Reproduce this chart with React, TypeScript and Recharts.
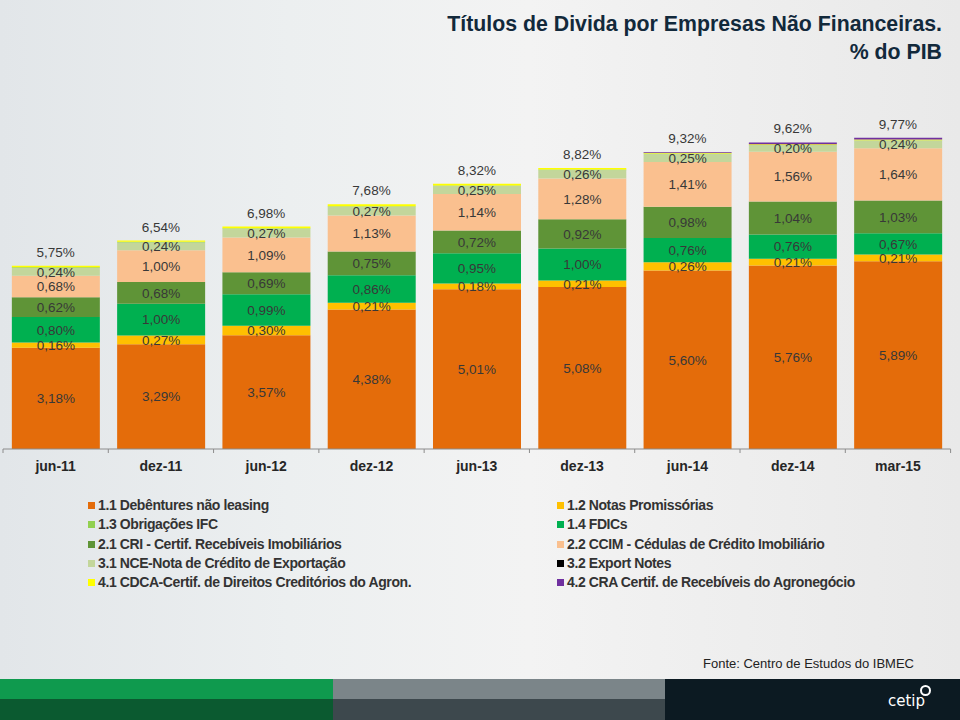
import React from 'react';
import { Bar, ComposedChart, LabelList, Line, XAxis, YAxis } from 'recharts';

const periods = ['jun-11', 'dez-11', 'jun-12', 'dez-12', 'jun-13', 'dez-13', 'jun-14', 'dez-14', 'mar-15'];

// valores em % do PIB
const debentures = [3.18, 3.29, 3.57, 4.38, 5.01, 5.08, 5.60, 5.76, 5.89];
const notasPromissorias = [0.16, 0.27, 0.30, 0.21, 0.18, 0.21, 0.26, 0.21, 0.21];
const fdics = [0.80, 1.00, 0.99, 0.86, 0.95, 1.00, 0.76, 0.76, 0.67];
const cri = [0.62, 0.68, 0.69, 0.75, 0.72, 0.92, 0.98, 1.04, 1.03];
const ccim = [0.68, 1.00, 1.09, 1.13, 1.14, 1.28, 1.41, 1.56, 1.64];
const nce = [0.24, 0.24, 0.27, 0.27, 0.25, 0.26, 0.25, 0.20, 0.24];
const ifc = [0.02, 0.02, 0.02, 0.02, 0.02, 0.02, 0.01, 0.01, 0.01];
const exportNotes = [0, 0, 0, 0, 0, 0, 0, 0, 0];
const cdca = [0.05, 0.04, 0.05, 0.06, 0.05, 0.05, 0.03, 0.02, 0.02];
const cra = [0, 0, 0, 0, 0, 0, 0.02, 0.06, 0.06];
const totals = [5.75, 6.54, 6.98, 7.68, 8.32, 8.82, 9.32, 9.62, 9.77];

const data = periods.map((name, i) => ({
  name,
  deb: debentures[i],
  np: notasPromissorias[i],
  fdic: fdics[i],
  cri: cri[i],
  ccim: ccim[i],
  nce: nce[i],
  ifc: ifc[i],
  exp: exportNotes[i],
  cdca: cdca[i],
  cra: cra[i],
  total: totals[i],
}));

// ordem de empilhamento (de baixo para cima)
const stack = [
  { key: 'deb', color: '#E46C0A', label: true },
  { key: 'np', color: '#FFC000', label: true },
  { key: 'fdic', color: '#00B050', label: true },
  { key: 'cri', color: '#5F9437', label: true },
  { key: 'ccim', color: '#FAC08F', label: true },
  { key: 'nce', color: '#C3D69B', label: true },
  { key: 'ifc', color: '#92D050', label: false },
  { key: 'exp', color: '#000000', label: false },
  { key: 'cdca', color: '#FFFF00', label: false },
  { key: 'cra', color: '#7030A0', label: false },
];

const legendItems = [
  { name: '1.1 Debêntures não leasing', color: '#E46C0A' },
  { name: '1.2 Notas Promissórias', color: '#FFC000' },
  { name: '1.3 Obrigações IFC', color: '#92D050' },
  { name: '1.4 FDICs', color: '#00B050' },
  { name: '2.1 CRI - Certif. Recebíveis Imobiliários', color: '#5F9437' },
  { name: '2.2 CCIM - Cédulas de Crédito Imobiliário', color: '#FAC08F' },
  { name: '3.1 NCE-Nota de Crédito de Exportação', color: '#C3D69B' },
  { name: '3.2 Export Notes', color: '#000000' },
  { name: '4.1 CDCA-Certif. de Direitos Creditórios do Agron.', color: '#FFFF00' },
  { name: '4.2 CRA Certif. de Recebíveis do Agronegócio', color: '#7030A0' },
];

const pct = (v: any) => Number(v).toFixed(2).replace('.', ',') + '%';
const font = 'Liberation Sans, Arial, Helvetica, sans-serif';
const TICK_GAP = 12;

const PeriodTick = (props: any) => {
  const { x, y, payload, width, visibleTicksCount, index } = props;
  const band = width / visibleTicksCount;
  const axisY = y - TICK_GAP;
  return (
    <g>
      <line x1={x - band / 2} x2={x - band / 2} y1={axisY} y2={axisY + 4} stroke="#8c8c8c" />
      {index === visibleTicksCount - 1 && (
        <line x1={x + band / 2} x2={x + band / 2} y1={axisY} y2={axisY + 4} stroke="#8c8c8c" />
      )}
      <text x={x} y={y} dy="0.71em" textAnchor="middle" fill="#262626" fontSize={14} fontWeight="bold" fontFamily={font}>
        {payload.value}
      </text>
    </g>
  );
};

const App = () => (
  <div
    style={{
      position: 'absolute', left: 0, top: 0, width: 960, height: 720, overflow: 'hidden',
      background: 'linear-gradient(90deg, #e2e6e9 0%, #eceff0 30%, #f3f3f3 55%, #e9e9e9 100%)',
      fontFamily: font,
    }}
  >
    <div
      style={{
        position: 'absolute', right: 18, top: 10, textAlign: 'right', fontSize: 21.3, lineHeight: '28px',
        fontWeight: 'bold', color: '#12293b',
      }}
    >
      Títulos de Divida por Empresas Não Financeiras.<br />% do PIB
    </div>

    <div style={{ position: 'absolute', left: 0, top: 0 }}>
      <ComposedChart width={960} height={490} data={data} margin={{ top: 66.6, right: 9.4, left: 3, bottom: 11 }} barCategoryGap="8.4%">
        <XAxis
          dataKey="name"
          height={30}
          axisLine={{ stroke: '#8c8c8c' }}
          tickLine={false}
          tickSize={6}
          tickMargin={6}
          tick={<PeriodTick />}
          interval={0}
        />
        <YAxis hide domain={[0, 12]} />
        {stack.map((s) => (
          <Bar key={s.key} dataKey={s.key} stackId="a" fill={s.color} isAnimationActive={false}>
            {s.label && (
              <LabelList dataKey={s.key} position="center" formatter={pct} fill="#383838" fontSize={13.5} fontFamily={font} />
            )}
          </Bar>
        ))}
        <Line dataKey="total" stroke="none" dot={false} activeDot={false} isAnimationActive={false}>
          <LabelList dataKey="total" position="top" offset={9} formatter={pct} fill="#383838" fontSize={13.5} fontFamily={font} />
        </Line>
      </ComposedChart>
    </div>

    <div
      style={{
        position: 'absolute', left: 88, top: 496, width: 860, display: 'grid',
        gridTemplateColumns: '469px 391px', fontSize: 14, lineHeight: '19.25px', fontWeight: 'bold', color: '#333',
        letterSpacing: '-0.4px',
      }}
    >
      {legendItems.map((it) => (
        <div key={it.name} style={{ display: 'flex', alignItems: 'center', whiteSpace: 'nowrap' }}>
          <span style={{ display: 'inline-block', width: 7, height: 7, background: it.color, marginRight: 3 }} />
          {it.name}
        </div>
      ))}
    </div>

    <div style={{ position: 'absolute', left: 703, top: 656, fontSize: 13, color: '#222' }}>
      Fonte: Centro de Estudos do IBMEC
    </div>

    <div style={{ position: 'absolute', left: 0, top: 679, width: 333, height: 20, background: '#0f9a4e' }} />
    <div style={{ position: 'absolute', left: 0, top: 699, width: 333, height: 21, background: '#0b5a30' }} />
    <div style={{ position: 'absolute', left: 333, top: 679, width: 332, height: 20, background: '#7b8589' }} />
    <div style={{ position: 'absolute', left: 333, top: 699, width: 332, height: 21, background: '#3d484d' }} />
    <div style={{ position: 'absolute', left: 665, top: 679, width: 295, height: 41, background: '#0c1a22' }} />
    <div style={{ position: 'absolute', left: 888, top: 692, fontSize: 15, color: '#fff', fontFamily: 'DejaVu Sans, sans-serif' }}>
      cetip
    </div>
    <div
      style={{
        position: 'absolute', left: 920, top: 685, width: 7, height: 7, borderRadius: '50%', border: '2.5px solid #fff',
      }}
    />
  </div>
);

export default App;
